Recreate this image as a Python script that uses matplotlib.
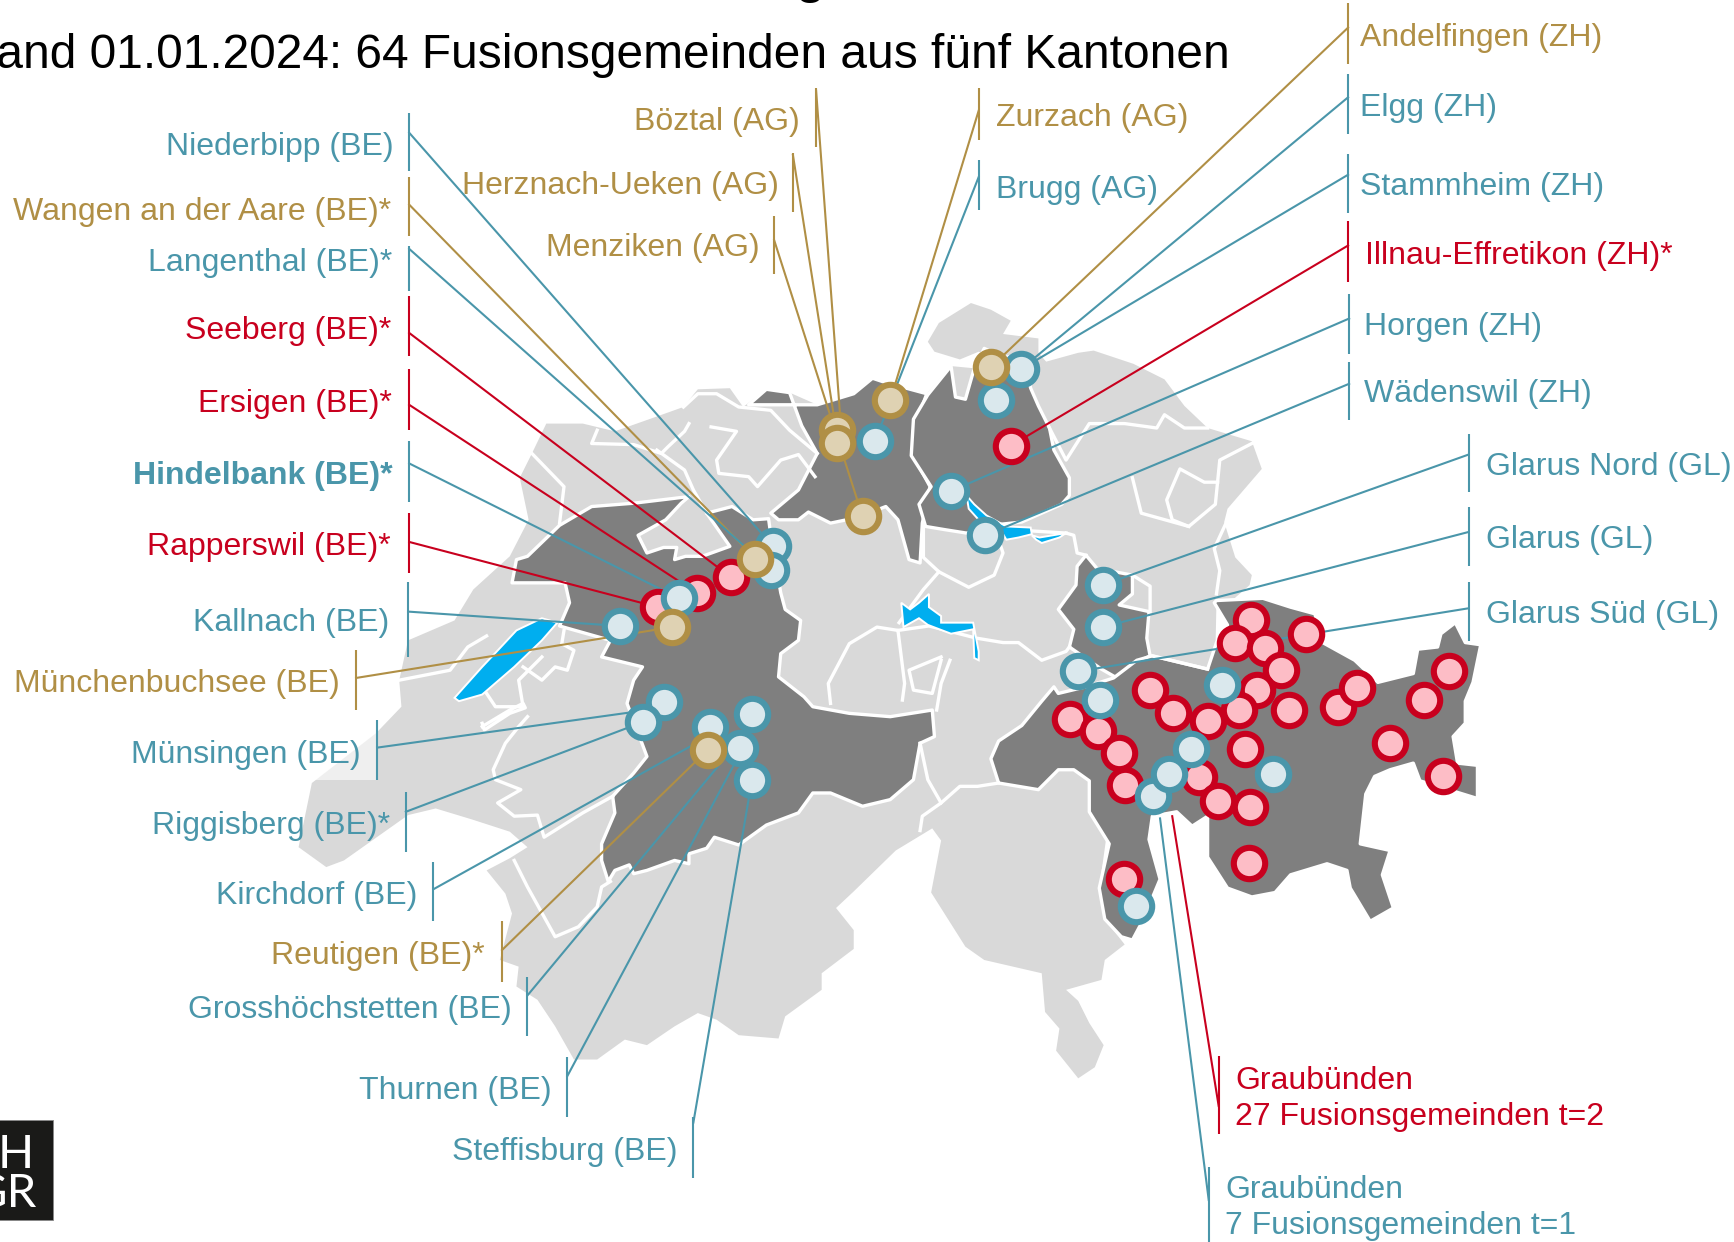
import matplotlib
matplotlib.use("Agg")
import matplotlib.pyplot as plt
from matplotlib.patches import Polygon, Rectangle

plt.rcParams['font.family'] = ['Liberation Sans', 'DejaVu Sans']

TEAL = "#4A96AA"
RED = "#C8001E"
GOLD = "#B08F45"
LIGHT = "#D9D9D9"
DARK = "#7F7F7F"
BLUE = "#00AEEF"

# map outlines
switzerland = [(282,708),(340,663),(363,639),(361,615),(369,579),(411,561),(428,533),(461,503),(478,470),
    (470,432),(481,410),(494,383),(527,383),(556,390),(590,378),(618,368),(631,352),(660,351),(672,368),(693,352),
    (714,355),(739,366),(772,356),(789,342),(801,346),(838,356),(860,331),(881,333),(890,315),(906,323),
    (939,319),(946,327),(975,319),(989,317),(1025,329),(1053,343),(1071,367),(1092,387),(1132,399),(1141,424),
    (1110,460),(1107,472),(1117,504),(1132,520),(1130,529),(1114,543),(1100,545),(1098,640),(1000,760),
    (994,803),(999,831),(1017,854),(999,868),(996,886),(964,895),(975,905),(985,925),(998,945),(990,965),
    (975,975),(955,950),(958,930),(945,915),(942,880),(890,868),(873,856),(842,807),(851,760),(843,749),
    (810,769),(772,806),(756,821),(772,841),(772,858),(743,880),(743,895),(710,919),(704,939),(668,936),
    (648,922),(631,916),(610,928),(585,945),(565,940),(540,958),(519,958),(502,928),(486,904),(467,892),
    (469,874),(452,868),(463,826),(457,808),(440,787),(461,776),(477,766),(461,752),(427,741),(394,731),
    (369,737),(311,778),(295,784),(270,766)]
schaffhausen = [(839,309),(849,292),(878,274),(896,280),(914,290),(907,302),(939,306),(939,322),(906,326),
    (885,318),(868,325),(845,318)]

aargau = [(677,366),(693,352),(714,355),(718,366),(739,366),(772,356),(789,342),(801,346),(838,356),(826,389),
    (828,416),(841,440),(834,473),(832,509),(822,506),(812,470),(801,458),(775,468),(751,473),(731,463),(722,470),
    (704,470),(697,464),(722,443),(739,410),(725,385),(718,366)]
zurich = [(839,357),(860,331),(864,359),(873,361),(881,333),(890,315),(906,323),(925,322),(932,351),(939,367),
    (949,387),(953,407),(967,432),(967,448),(960,456),(924,472),(905,474),(874,482),(855,479),(837,476),
    (831,456),(842,440),(824,412),(826,379)]
bern = [(463,527),(467,506),(477,503),(506,475),(535,458),(573,455),(623,449),(616,455),(602,470),(577,484),
    (585,500),(600,495),(612,495),(610,506),(620,503),(635,503),(660,494),(639,464),(662,458),(681,470),(695,469),
    (697,484),(706,536),(710,551),(724,561),(722,579),(706,591),(704,612),(727,630),(735,639),(768,645),(805,648),
    (843,642),(845,666),(832,672),(826,705),(805,723),(780,729),(751,717),(735,717),(722,735),(693,746),(668,764),
    (646,757),(639,767),(623,772),(623,781),(610,778),(585,787),(573,790),(569,782),(556,787),(550,797),(544,778),
    (544,763),(556,735),(554,720),(573,699),(585,684),(567,636),(573,615),(581,603),(544,594),(552,579),(506,566),
    (515,545),(511,527)]
glarus = [(982,502),(992,514),(1024,520),(1024,537),(1012,547),(1039,553),(1037,577),(1040,593),(1024,601),
    (1010,613),(996,605),(967,585),(971,569),(957,551),(973,529),(974,512)]
graubuenden = [(1100,543),(1142,541),(1167,549),(1189,555),(1196,581),(1225,597),(1246,617),(1278,609),(1282,587),
    (1300,585),(1303,573),(1316,563),(1325,581),(1339,583),(1332,617),(1325,634),(1325,654),(1314,666),(1318,690),
    (1336,692),(1336,722),(1310,714),(1284,706),(1278,690),(1257,696),(1243,702),(1235,718),(1230,763),(1257,769),
    (1250,791),(1260,821),(1239,833),(1221,803),(1218,787),(1200,781),(1167,791),(1153,807),(1132,811),(1110,803),
    (1092,775),(1092,738),(1078,747),(1064,734),(1042,738),(1039,759),(1049,795),(1039,819),(1032,835),(1024,850),
    (1014,847),(999,831),(994,803),(1003,763),(985,734),(985,706),(971,696),(957,696),(939,714),(903,708),(896,686),
    (903,670),(924,656),(942,634),(953,621),(957,627),(982,621),(1007,613),(1028,597),(1042,593),(1092,605),
    (1100,581),(1110,565),(1098,545)]
dark_cantons = [aargau, zurich, bern, glarus, graubuenden]

neuenburgersee = [(411,631),(436,603),(453,585),(467,570),(490,559),(504,563),(490,579),(465,603),(436,628),(415,634)]
zuerichsee = [(874,448),(881,456),(892,466),(910,476),(932,477),(933,483),(921,486),(910,488),(903,476),(885,470),(876,460)]
walensee = [(933,484),(940,486),(964,482),(958,486),(942,491),(937,488)]
vierwaldstaettersee = [(815,545),(823,551),(831,545),(840,537),(840,549),(851,557),(851,563),(880,563),(885,589),
    (885,597),(881,595),(880,569),(860,573),(839,565),(831,559),(817,567)]
lakes = [neuenburgersee, zuerichsee, walensee, vierwaldstaettersee]

borders = [
    [(361,615),(407,606),(423,585),(440,575)],
    [(440,627),(448,639),(473,639),(469,615),(490,594)],
    [(473,603),(490,615),(502,603),(513,606),(519,588),(508,582),(510,570)],
    [(436,654),(438,660),(461,645),(475,640),(473,636),(461,642),(436,657)],
    [(477,648),(469,657),(457,672),(446,696),(448,705),(471,714),(450,726),(465,738),(486,737),(492,757),(527,735),(554,720)],
    [(465,778),(477,802),(502,847),(523,838),(540,820),(544,802),(552,797)],
    [(540,389),(535,401),(573,402),(598,410),(604,404),(619,390),(623,383)],
    [(643,386),(666,390),(648,416),(650,428),(677,431),(685,440),(706,416),(722,411),(737,431)],
    [(618,368),(631,356),(648,356),(668,368),(697,371),(714,389),(739,410)],
    [(594,407),(619,425),(627,443),(639,464)],
    [(481,410),(510,440),(506,473)],
    [(751,636),(749,618),(768,582),(793,567),(812,570),(818,618),(816,633)],
    [(851,594),(822,606),(826,624),(843,627),(847,612),(851,597)],
    [(859,597),(851,618),(847,642)],
    [(812,570),(840,566),(883,577),(907,581),(921,581),(942,597),(964,589),(967,585)],
    [(835,476),(835,504),(849,517),(876,531),(899,520),(907,500),(903,488)],
    [(849,517),(835,533),(813,563)],
    [(964,482),(971,484),(974,500),(982,502)],
    [(932,480),(964,482)],
    [(832,672),(839,705),(851,726),(834,738),(832,751)],
    [(851,726),(868,711),(884,711),(903,708)],
    [(1100,537),(1103,516),(1098,496),(1110,470)],
    [(1024,432),(1032,464),(1075,476),(1099,456),(1103,416),(1132,401)],
    [(1101,436),(1089,436),(1067,424),(1055,452),(1060,470),(1075,476)],
    [(949,387),(964,416),(985,383),(1017,383),(1046,387),(1053,375),(1071,387),(1092,387)],
    [(1024,520),(1040,530),(1040,553)],
    [(1042,593),(1092,605)],
]

# fusion municipalities: marker positions per group
t2_points = [(661,522),(630,536),(595,549),(914,403),(1131,561),(1117,581),(1144,586),(1181,573),(1158,606),(1137,624),
    (1120,642),(1092,652),(1061,645),(1040,624),(968,650),(993,661),(1012,681),(1017,710),(1084,703),(1101,724),
    (1130,730),(1126,677),(1166,642),(1210,639),(1227,622),(1288,633),(1310,607),(1257,672),(1305,702),(1129,780),(1016,795)]
t1_points = [(600,635),(581,653),(642,657),(680,646),(669,676),(680,705),(699,494),(697,515),(614,541),(561,566),
    (791,399),(923,334),(901,362),(860,444),(891,484),(997,529),(997,567),(975,607),(995,633),(1105,619),
    (1077,677),(1043,720),(1057,700),(1151,700),(1027,819)]
t0_points = [(683,505),(608,567),(640,678),(805,362),(757,389),(757,401),(780,467),(896,332)]

# label, colour, text x, text y, align, bracket x, bracket top, bracket bottom, leader start y, leader end
labels = [
    ("Niederbipp (BE)", TEAL, 356, 130, "right", 370, 102, 155, 120, (699,494)),
    ("Wangen an der Aare (BE)*", GOLD, 354, 189, "right", 370, 160, 213, 185, (683,505)),
    ("Langenthal (BE)*", TEAL, 355, 235, "right", 370, 222, 263, 225, (697,515)),
    ("Seeberg (BE)*", RED, 354, 297, "right", 370, 268, 322, 301, (661,522)),
    ("Ersigen (BE)*", RED, 354, 363, "right", 370, 334, 389, 366, (630,536)),
    ("Hindelbank (BE)*", TEAL, 355, 428, "right", 370, 399, 454, 419, (614,541)),
    ("Rapperswil (BE)*", RED, 353, 492, "right", 370, 464, 518, 490, (595,549)),
    ("Kallnach (BE)", TEAL, 352, 561, "right", 369, 526, 594, 553, (561,566)),
    ("Münchenbuchsee (BE)", GOLD, 307, 616, "right", 322, 588, 642, 613, (608,567)),
    ("Münsingen (BE)", TEAL, 326, 680, "right", 341, 651, 705, 676, (600,640)),
    ("Riggisberg (BE)*", TEAL, 353, 744, "right", 367, 716, 770, 734, (581,653)),
    ("Kirchdorf (BE)", TEAL, 377, 808, "right", 392, 779, 833, 804, (642,665)),
    ("Reutigen (BE)*", GOLD, 438, 862, "right", 454, 833, 888, 859, (640,678)),
    ("Grosshöchstetten (BE)", TEAL, 463, 911, "right", 477, 883, 937, 900, (660,680)),
    ("Thurnen (BE)", TEAL, 499, 984, "right", 513, 956, 1010, 973, (672,676)),
    ("Steffisburg (BE)", TEAL, 613, 1039, "right", 627, 1010, 1065, 1015, (680,705)),
    ("Böztal (AG)", GOLD, 723, 108, "right", 738, 80, 133, 82, (760,380)),
    ("Herznach-Ueken (AG)", GOLD, 704, 166, "right", 717, 138, 192, 140, (757,395)),
    ("Menziken (AG)", GOLD, 687, 222, "right", 700, 195, 248, 217, (780,467)),
    ("Zurzach (AG)", GOLD, 901, 104, "left", 885, 80, 127, 100, (805,362)),
    ("Brugg (AG)", TEAL, 901, 169, "left", 885, 145, 190, 160, (791,399)),
    ("Andelfingen (ZH)", GOLD, 1230, 32, "left", 1219, 3, 58, 25, (896,332)),
    ("Elgg (ZH)", TEAL, 1230, 95, "left", 1219, 67, 121, 88, (923,334)),
    ("Stammheim (ZH)", TEAL, 1230, 167, "left", 1219, 139, 193, 158, (923,334)),
    ("Illnau-Effretikon (ZH)*", RED, 1234, 229, "left", 1219, 200, 255, 222, (914,403)),
    ("Horgen (ZH)", TEAL, 1233, 293, "left", 1220, 266, 320, 288, (860,444)),
    ("Wädenswil (ZH)", TEAL, 1233, 354, "left", 1220, 327, 380, 347, (891,484)),
    ("Glarus Nord (GL)", TEAL, 1344, 420, "left", 1328, 392, 445, 411, (997,529)),
    ("Glarus (GL)", TEAL, 1344, 486, "left", 1328, 458, 512, 481, (997,567)),
    ("Glarus Süd (GL)", TEAL, 1344, 554, "left", 1328, 526, 580, 550, (975,607)),
    ("Graubünden\n27 Fusionsgemeinden t=2", RED, 1117, 991, "left", 1102, 955, 1025, 1000, (1060,738)),
    ("Graubünden\n7 Fusionsgemeinden t=1", TEAL, 1108, 1090, "left", 1093, 1055, 1123, 1085, (1049,740)),
]

fig = plt.figure(figsize=(17.34, 12.42), dpi=100)
ax = fig.add_axes([0, 0, 1, 1])
ax.set_xlim(0, 1568)
ax.set_ylim(1123, 0)
ax.axis("off")

# map
ax.add_patch(Polygon(switzerland, fc=LIGHT, ec="none", zorder=1))
ax.add_patch(Polygon(schaffhausen, fc=LIGHT, ec="none", zorder=1))
for canton in dark_cantons:
    ax.add_patch(Polygon(canton, fc=DARK, ec="white", lw=2.4, zorder=2, joinstyle="round"))
for border in borders:
    ax.plot([p[0] for p in border], [p[1] for p in border], color="white", lw=2.4, zorder=3, solid_joinstyle="round")
for lake in lakes:
    ax.add_patch(Polygon(lake, fc=BLUE, ec="white", lw=1.4, zorder=4))

# label backing that washes out the map
ax.add_patch(Rectangle((117, 650), 224, 55, fc="white", alpha=0.6, ec="none", zorder=5))

# leaders and labels
for text, colour, tx, ty, align, bx, btop, bbot, ly, end in labels:
    ax.plot([bx, bx], [btop, bbot], color=colour, lw=1.5, zorder=6, solid_capstyle="butt")
    ax.plot([bx, end[0]], [ly, end[1]], color=colour, lw=1.5, zorder=6)
    weight = "bold" if text.startswith("Hindelbank") else "normal"
    ax.text(tx, ty + 2.5, text, color=colour, fontsize=23, ha=align, va="center", weight=weight,
            linespacing=1.27, zorder=7)

# markers
for points, edge, fill in [(t2_points, RED, "#FDBDC6"), (t1_points, TEAL, "#DAE8ED"), (t0_points, GOLD, "#DFD2B3")]:
    for p in points:
        ax.scatter(p[0], p[1], s=510, fc=fill, ec=edge, lw=4.4, zorder=8)

# title
ax.text(1112, 61.6, "Stand 01.01.2024: 64 Fusionsgemeinden aus fünf Kantonen", color="black", fontsize=34.5,
        ha="right", va="baseline")
ax.text(733, -6, "g", color="black", fontsize=34.5, weight="bold", ha="center", va="baseline")

# logo
ax.add_patch(Rectangle((-5, 1013), 53, 90, fc="#1A1A18", ec="#888888", lw=0.6, zorder=9))
ax.text(30.5, 1056, "H", color="white", fontsize=34, family="Lato", ha="right", va="baseline", zorder=10)
ax.text(33.5, 1091, "GR", color="white", fontsize=34, family="Lato", ha="right", va="baseline", zorder=10)

plt.savefig("out.png", dpi=100)
